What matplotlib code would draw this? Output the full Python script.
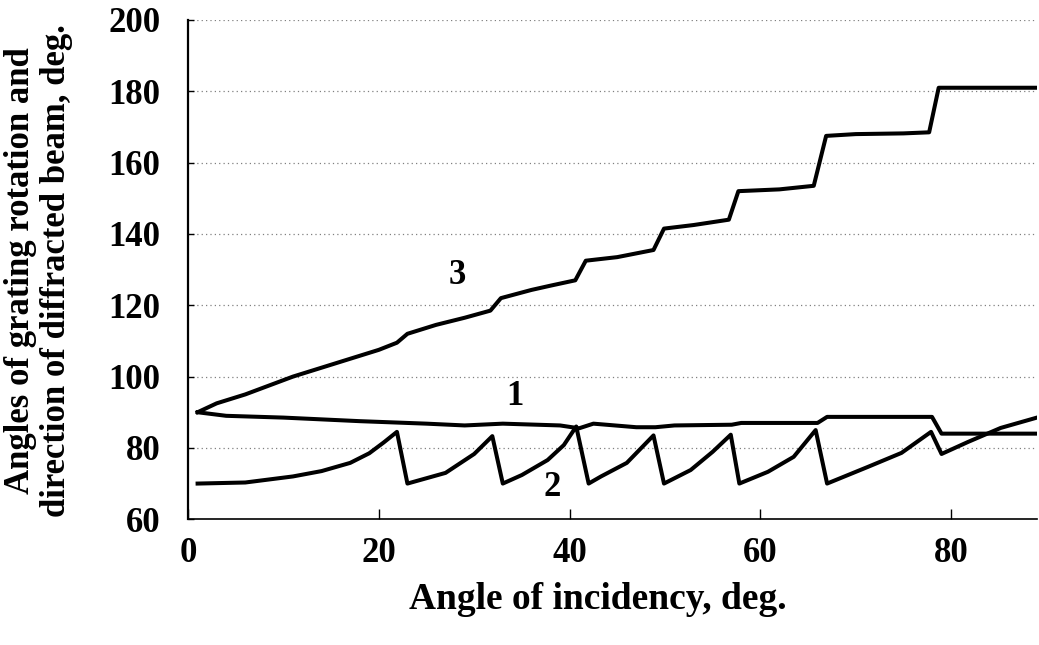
import matplotlib.pyplot as plt

# angle of incidency, deg. and the three curves
x1 = [1, 4, 10, 18, 25, 29, 33, 39, 41, 42.5, 47, 49, 51, 57, 58, 66, 67, 78, 79, 89]
y1 = [90, 89, 88.5, 87.5, 86.8, 86.3, 86.8, 86.3, 85.5, 86.8, 85.8, 85.8, 86.3,
      86.5, 87, 87, 88.7, 88.7, 84, 84]

x2 = [1, 6, 11, 14, 17, 19, 20.5, 21.9, 23, 27, 30, 31.9, 33, 35, 37.7, 39.4, 40.7,
      42, 43.3, 46, 48.8, 49.9, 52.7, 55, 56.9, 57.8, 60.8, 63.5, 65.8, 67, 71.3,
      74.8, 77.9, 79, 81.8, 85.2, 89]
y2 = [70, 70.3, 72, 73.5, 75.8, 78.5, 81.5, 84.5, 70, 73, 78.3, 83.3, 70, 72.4, 76.6,
      80.8, 86, 70, 72, 75.8, 83.5, 70, 73.8, 78.9, 83.7, 70, 73.3, 77.5, 85, 70,
      74.7, 78.6, 84.5, 78.3, 81.7, 85.6, 88.5]

x3 = [1, 3, 6, 9, 11, 14, 17, 20, 21.9, 23, 26, 29, 31.7, 32.8, 36, 38, 40.6, 41.7,
      45, 48.8, 49.9, 53, 56.7, 57.7, 62, 65.6, 66.9, 70, 75, 77.7, 78.7, 89]
y3 = [90, 92.5, 95, 98, 100, 102.5, 105, 107.5, 109.5, 112, 114.5, 116.5, 118.5, 122,
      124.3, 125.5, 127, 132.5, 133.5, 135.5, 141.5, 142.5, 144, 152, 152.5, 153.5,
      167.5, 168, 168.2, 168.5, 181, 181]

curve_labels = ['1', '2', '3']
label_pos = [(34.3, 94.4), (38.2, 69.0), (28.2, 128.3)]

xticks = [0, 20, 40, 60, 80]
yticks = [60, 80, 100, 120, 140, 160, 180, 200]

plt.rcParams['font.family'] = ['Liberation Serif', 'DejaVu Serif']
plt.rcParams['font.weight'] = 'bold'

fig = plt.figure(figsize=(10.39, 6.45), dpi=100)
ax = fig.add_axes([0.181, 0.195, 0.817, 0.774])

for yv in yticks[1:]:
    ax.axhline(yv, color='0.5', linestyle=(0, (1, 2.5)), linewidth=0.9, zorder=1)

ax.plot(x1, y1, color='black', linewidth=2.9, zorder=3)
ax.plot(x2, y2, color='black', linewidth=2.9, zorder=3)
ax.plot(x3, y3, color='black', linewidth=2.9, zorder=3)

for lab, (lx, ly) in zip(curve_labels, label_pos):
    ax.text(lx, ly, lab, fontsize=25, fontweight='bold', ha='center', va='center')

ax.set_xlim(0, 89)
ax.set_ylim(60, 200)
ax.set_xticks(xticks)
ax.set_yticks(yticks)
ax.tick_params(axis='both', direction='in', length=7, width=1, labelsize=25)
ax.tick_params(axis='y', pad=20, length=4)
ax.tick_params(axis='x', pad=13)
for t in ax.get_xticklabels() + ax.get_yticklabels():
    t.set_fontweight('bold')

ax.spines['top'].set_visible(False)
ax.spines['right'].set_visible(False)
ax.spines['left'].set_linewidth(1.6)
ax.spines['bottom'].set_linewidth(1.2)

fig.text(0.575, 0.07, 'Angle of incidency, deg.', fontsize=27, fontweight='bold',
         ha='center', va='center')
fig.text(0.037, 0.581, 'Angles of grating rotation and\ndirection of diffracted beam, deg.',
         fontsize=25, fontweight='bold', rotation=90, ha='center', va='center',
         linespacing=1.13, multialignment='center')

fig.savefig('out.png', dpi=100)
